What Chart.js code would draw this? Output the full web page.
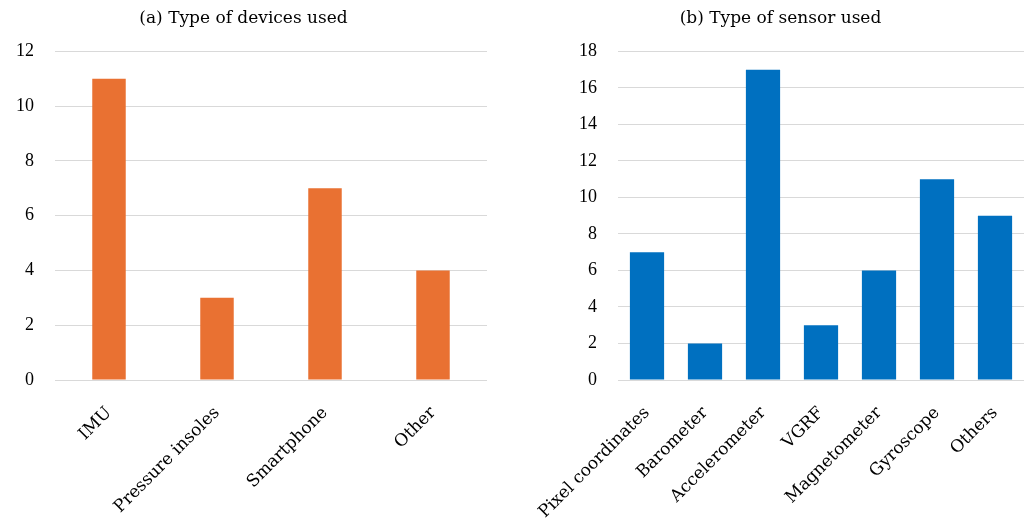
<!DOCTYPE html>
<html>
<head>
<meta charset="utf-8">
<script src="https://cdn.jsdelivr.net/npm/chart.js@4/dist/chart.umd.min.js"></script>
<style>
  body { margin: 0; background: #fff; }
  #wrap { position: relative; width: 1027px; height: 521px; }
  .box { position: absolute; top: 0; height: 521px; }
</style>
</head>
<body>
<div id="wrap">
  <div class="box" style="left:0;width:500px"><canvas id="devChart"></canvas></div>
  <div class="box" style="left:517px;width:510px"><canvas id="sensChart"></canvas></div>
</div>
<script>
// data
const deviceLabels = ['IMU', 'Pressure insoles', 'Smartphone', 'Other'];
const deviceCounts = [11, 3, 7, 4];
const sensorLabels = ['Pixel coordinates', 'Barometer', 'Accelerometer', 'VGRF', 'Magnetometer', 'Gyroscope', 'Others'];
const sensorCounts = [7, 2, 17, 3, 6, 11, 9];

const TIMES = "'Liberation Serif', serif";
const WIDE = "'DejaVu Serif', serif";
Chart.defaults.font.family = TIMES;
Chart.defaults.color = '#000';
Chart.defaults.animation = false;

// pad = [left, right] around the plot, yWidth = room for the y labels
function makeChart(id, title, labels, values, color, yMax, pad, yWidth, barPct) {
    const ctx = document.getElementById(id).getContext('2d');
    return new Chart(ctx, {
        type: 'bar',
        data: { labels: labels, datasets: [{ data: values, backgroundColor: color, barPercentage: barPct, categoryPercentage: 1 }] },
        options: {
            responsive: true,
            maintainAspectRatio: false,
            layout: { padding: { left: pad[0], right: pad[1], top: 0, bottom: 0 } },
            plugins: {
                legend: { display: false },
                tooltip: { enabled: false },
                title: { display: true, text: title, color: '#000', font: { family: WIDE, size: 17, weight: 'normal' }, padding: { top: 8, bottom: 23 } }
            },
            scales: {
                x: {
                    grid: { display: false },
                    border: { display: false },
                    ticks: { font: { family: WIDE, size: 17 }, minRotation: 45, maxRotation: 45, padding: 15 },
                    afterFit: s => { s.height = 141; }
                },
                y: {
                    min: 0, max: yMax,
                    grid: { color: '#d9d9d9', drawTicks: false },
                    border: { display: false },
                    ticks: { stepSize: 2, font: { size: 18 }, padding: 21 },
                    afterFit: s => { s.width = yWidth; }
                }
            }
        }
    });
}

makeChart('devChart', '(a) Type of devices used', deviceLabels, deviceCounts, '#E97132', 12, [0, 13], 55, 0.31);
makeChart('sensChart', '(b) Type of sensor used', sensorLabels, sensorCounts, '#0070C0', 18, [20, 3], 81, 0.59);
</script>
</body>
</html>
